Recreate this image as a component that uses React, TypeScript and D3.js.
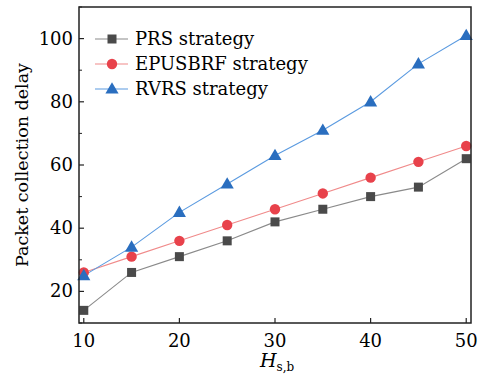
import React from "react";
import * as d3 from "d3";

const hValues = [10, 15, 20, 25, 30, 35, 40, 45, 50];
const prs = [14, 26, 31, 36, 42, 46, 50, 53, 62];
const epusbrf = [26, 31, 36, 41, 46, 51, 56, 61, 66];
const rvrs = [25, 34, 45, 54, 63, 71, 80, 92, 101];
const xTicks = [10, 20, 30, 40, 50];
const yTicks = [20, 40, 60, 80, 100];
const yMinor = [10, 30, 50, 70, 90, 110];
const seriesNames = ["PRS strategy", "EPUSBRF strategy", "RVRS strategy"];

const W = 489, H = 384;
const L = 79, R = 471, T = 7, B = 323;
const FONT = "'DejaVu Serif', serif";

const seriesStyle = [
  { line: "#8a8a8a", fill: "#4a4a4a", shape: "square" },
  { line: "#f08a8a", fill: "#e8424b", shape: "circle" },
  { line: "#5a9ae0", fill: "#2a6ebf", shape: "triangle" },
];

function Marker({ x, y, shape, fill }: { x: number; y: number; shape: string; fill: string }) {
  if (shape === "square") return <rect x={x - 4.5} y={y - 4.5} width={9} height={9} fill={fill} />;
  if (shape === "circle") return <circle cx={x} cy={y} r={5.2} fill={fill} />;
  const p = d3.symbol(d3.symbolTriangle, 75)();
  return <path d={p as string} transform={`translate(${x},${y + 0.8})`} fill={fill} />;
}

export default function App() {
  const x = d3.scaleLinear().domain([9.5, 50.5]).range([L, R]);
  const y = d3.scaleLinear().domain([10, 110]).range([B, T]);
  const data = [prs, epusbrf, rvrs];
  const line = d3
    .line<number>()
    .x((_, i) => x(hValues[i]))
    .y((d) => y(d));

  return (
    <svg width={W} height={H} style={{ position: "absolute", left: 0, top: 0 }} fontFamily={FONT}>
      <rect x={0} y={0} width={W} height={H} fill="#fff" />
      {data.map((s, si) => (
        <path key={"l" + si} d={line(s) as string} fill="none" stroke={seriesStyle[si].line} strokeWidth={1.1} />
      ))}
      {data.map((s, si) =>
        s.map((v, i) => (
          <Marker key={`m${si}-${i}`} x={x(hValues[i])} y={y(v)} shape={seriesStyle[si].shape} fill={seriesStyle[si].fill} />
        ))
      )}
      {/* frame */}
      <rect x={L} y={T} width={R - L} height={B - T} fill="none" stroke="#222" strokeWidth={1.5} />
      {/* x ticks */}
      {xTicks.map((t) => (
        <g key={"xt" + t}>
          <line x1={x(t)} x2={x(t)} y1={B} y2={B - 5} stroke="#222" strokeWidth={1.2} />
          <text x={x(t)} y={B + 24} textAnchor="middle" fontSize={18} fill="#000">
            {t}
          </text>
        </g>
      ))}
      {yTicks.map((t) => (
        <g key={"yt" + t}>
          <line x1={L} x2={L + 5} y1={y(t)} y2={y(t)} stroke="#222" strokeWidth={1.2} />
          <text x={L - 6} y={y(t) + 6} textAnchor="end" fontSize={18} fill="#000">
            {t}
          </text>
        </g>
      ))}
      {yMinor.map((t) => (
        <line key={"ym" + t} x1={L} x2={L + 3} y1={y(t)} y2={y(t)} stroke="#222" strokeWidth={1} />
      ))}
      {/* y label */}
      <text
        transform={`translate(28,${(T + B) / 2}) rotate(-90)`}
        textAnchor="middle"
        fontSize={17.5}
        fill="#000"
      >
        Packet collection delay
      </text>
      {/* x label */}
      <text x={260} y={367} fontSize={19} fill="#000">
        <tspan fontStyle="italic">H</tspan>
        <tspan fontSize={12} dy={4}>s,b</tspan>
      </text>
      {/* legend */}
      {seriesNames.map((n, i) => {
        const ly = 39 + i * 25;
        return (
          <g key={"lg" + i}>
            <line x1={95} x2={128} y1={ly} y2={ly} stroke={seriesStyle[i].line} strokeWidth={1.1} />
            <Marker x={112} y={ly} shape={seriesStyle[i].shape} fill={seriesStyle[i].fill} />
            <text x={135} y={ly + 6} fontSize={18} fill="#000">
              {n}
            </text>
          </g>
        );
      })}
    </svg>
  );
}
